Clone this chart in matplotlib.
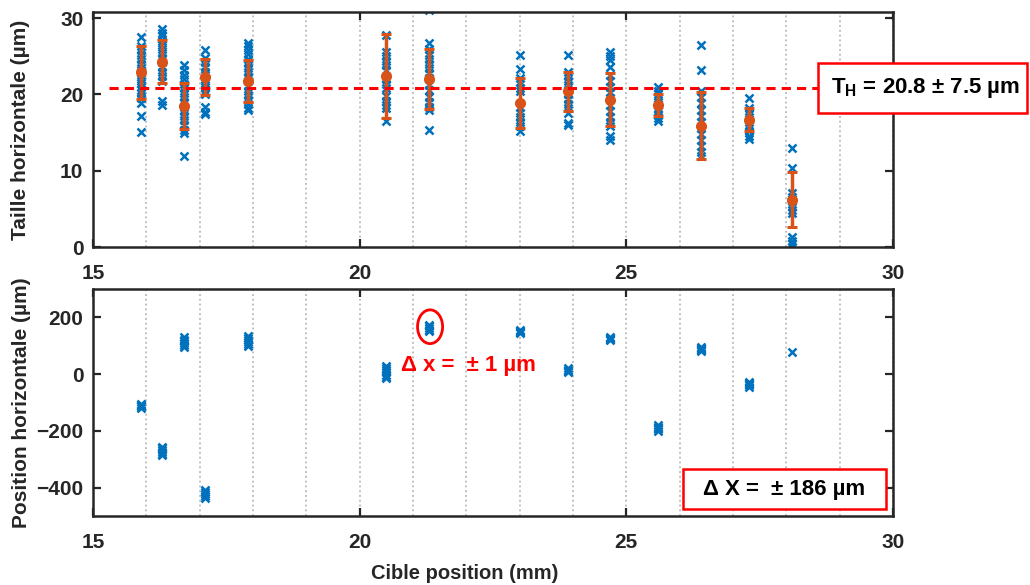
import matplotlib
matplotlib.use("Agg")
import matplotlib.pyplot as plt
from matplotlib.patches import Ellipse, Rectangle

plt.rcParams["font.family"] = ["Liberation Sans", "DejaVu Sans"]
plt.rcParams["font.weight"] = "bold"
plt.rcParams["axes.labelweight"] = "bold"

BLEU = "#0072BD"
ORANGE = "#D95319"
AXE = "#262626"
ROUGE = "#FF0000"

# positions de cible (mm)
cible_mm = [15.9, 16.3, 16.7, 17.1, 17.9, 20.5, 21.3, 23.0, 23.9, 24.7, 25.6, 26.4, 27.3, 28.1]

# taille horizontale : moyenne et écart-type par cible (µm)
taille_moy = [22.9, 24.3, 18.5, 22.3, 21.8, 22.4, 22.0, 18.9, 20.4, 19.3, 18.6, 15.9, 16.7, 6.2]
taille_err = [3.45, 2.85, 3.0, 2.4, 2.75, 5.5, 3.95, 3.25, 2.55, 3.45, 1.45, 4.35, 1.55, 3.6]

# mesures individuelles de taille (µm)
taille_mesures = [
    [27.5, 26.3, 25.8, 25.2, 24.6, 24.0, 23.5, 23.0, 22.5, 22.0, 21.5, 21.0, 20.6, 20.2, 19.5, 18.9, 17.2, 15.1],
    [28.6, 28.1, 27.6, 27.0, 26.5, 26.0, 25.4, 24.8, 24.2, 23.6, 23.0, 22.4, 21.8, 19.2, 18.6],
    [23.8, 23.2, 22.6, 22.0, 21.4, 20.8, 20.2, 19.6, 19.0, 18.4, 17.8, 17.2, 16.6, 16.0, 15.4, 14.9, 11.9],
    [25.8, 24.8, 24.2, 23.6, 23.0, 22.5, 22.0, 21.5, 21.0, 20.5, 20.0, 18.3, 17.7, 17.4],
    [26.8, 26.3, 25.8, 25.3, 24.7, 24.1, 23.5, 22.9, 22.3, 21.7, 21.1, 20.5, 19.9, 19.3, 18.7, 18.2, 17.9],
    [27.8, 25.6, 25.0, 24.4, 23.8, 23.2, 22.0, 21.4, 20.8, 19.8, 19.2, 18.6, 18.2, 16.5],
    [31.0, 26.7, 25.9, 25.2, 24.6, 24.0, 23.4, 22.8, 22.2, 21.2, 20.6, 19.6, 19.0, 18.4, 17.9, 15.3],
    [25.2, 23.3, 22.2, 21.6, 20.9, 20.4, 18.4, 17.6, 17.0, 16.4, 15.8, 15.2],
    [25.1, 23.0, 22.4, 21.8, 21.2, 20.6, 20.0, 19.4, 18.8, 18.2, 17.6, 16.3, 16.0],
    [25.6, 25.0, 24.5, 23.6, 22.6, 21.8, 21.0, 20.3, 19.5, 18.6, 17.8, 17.0, 16.4, 15.8, 14.5, 14.0],
    [21.0, 20.5, 20.0, 19.5, 19.0, 18.6, 18.2, 17.8, 17.3, 16.9, 16.5],
    [26.5, 23.2, 20.4, 19.6, 18.9, 18.0, 17.2, 16.4, 15.6, 14.8, 14.0, 13.2, 12.5, 11.9],
    [19.5, 18.2, 17.6, 17.0, 16.4, 15.8, 15.2, 14.6, 14.2],
    [13.0, 10.3, 7.1, 6.6, 6.0, 5.4, 4.9, 4.4, 1.3, 0.8, 0.4, 0.0],
]

# mesures individuelles de position horizontale (µm)
position_mesures = [
    [-104, -108, -111, -114, -118],
    [-256, -262, -268, -274, -280, -284],
    [130, 122, 115, 108, 101, 96],
    [-408, -415, -422, -429, -435],
    [136, 128, 120, 112, 105, 100],
    [30, 22, 14, 6, -2, -10, -15],
    [174, 168, 162, 156, 152],
    [156, 152, 148, 144],
    [20, 16, 12, 8],
    [131, 127, 123, 119],
    [-180, -185, -190, -195, -200],
    [97, 93, 89, 85, 82],
    [-26, -31, -36, -40, -44],
    [77],
]

seuil_th = 20.8


def style_axe(ax, yticks, ylim):
    ax.set_xlim(15, 30)
    ax.set_ylim(*ylim)
    ax.set_xticks([15, 20, 25, 30])
    ax.set_xticks(range(16, 30), minor=True)
    ax.set_yticks(yticks)
    ax.grid(True, which="both", axis="x", ls=":", color="#b8b8b8", lw=1.3)
    ax.set_axisbelow(True)
    ax.tick_params(which="major", direction="in", length=6, width=1.6, top=True, right=True,
                   colors=AXE, labelsize=15, pad=7)
    ax.tick_params(axis="x", which="major", pad=12)
    ax.tick_params(which="minor", length=0)
    for s in ax.spines.values():
        s.set_color(AXE)
        s.set_linewidth(1.8)


fig = plt.figure(figsize=(10.3, 5.85), dpi=100)
ax1 = fig.add_axes([93 / 1030, 1 - 247 / 585, 800 / 1030, 235 / 585])
ax2 = fig.add_axes([93 / 1030, 1 - 516 / 585, 800 / 1030, 227 / 585])

# panneau du haut : taille
for x, vals in zip(cible_mm, taille_mesures):
    ax1.plot([x] * len(vals), vals, "x", color=BLEU, ms=5.5, mew=1.8, zorder=2)
ax1.errorbar(cible_mm, taille_moy, yerr=taille_err, fmt="o", color=ORANGE, ms=7,
             elinewidth=2.5, capsize=3.5, capthick=2.2, zorder=3)
ax1.plot([15.3, 28.6], [seuil_th, seuil_th], color=ROUGE, lw=2.2, dashes=(3, 2), zorder=4)
style_axe(ax1, [0, 10, 20, 30], (0, 30.8))
ax1.set_ylabel("Taille horizontale (µm)", fontsize=15, color=AXE)
ax1.yaxis.set_label_coords(-0.079, 0.5)

# panneau du bas : position
for x, vals in zip(cible_mm, position_mesures):
    ax2.plot([x] * len(vals), vals, "x", color=BLEU, ms=5.5, mew=1.8, zorder=2)
style_axe(ax2, [-400, -200, 0, 200], (-500, 300))
ax2.set_ylabel("Position horizontale (µm)", fontsize=15, color=AXE)
ax2.yaxis.set_label_coords(-0.077, 0.5)
ax2.set_xlabel("Cible position (mm)", fontsize=14.5, color=AXE)
ax2.xaxis.set_label_coords(0.465, -0.21)

ax2.add_patch(Ellipse((21.32, 167), 0.47, 119, fill=False, ec=ROUGE, lw=2, zorder=5))
ax2.text(22.04, 30, "Δ x =  ± 1 µm", color=ROUGE, fontsize=16, ha="center", va="center")

# cadres d'annotation
fig.patches.append(Rectangle((818 / 1030, 1 - 113 / 585), 209 / 1030, 50 / 585,
                             transform=fig.transFigure, fc="white", ec=ROUGE, lw=1.8, zorder=10))
fig.text(926 / 1030, 1 - 88 / 585, "T$_\\mathregular{H}$ = 20.8 ± 7.5 µm", fontsize=16,
         color="black", ha="center", va="center", zorder=11)
fig.patches.append(Rectangle((683 / 1030, 1 - 509 / 585), 203 / 1030, 40 / 585,
                             transform=fig.transFigure, fc="white", ec=ROUGE, lw=1.8, zorder=10))
fig.text(784 / 1030, 1 - 489 / 585, "Δ X =  ± 186 µm", fontsize=16,
         color="black", ha="center", va="center", zorder=11)

fig.savefig("out.png", dpi=100)
